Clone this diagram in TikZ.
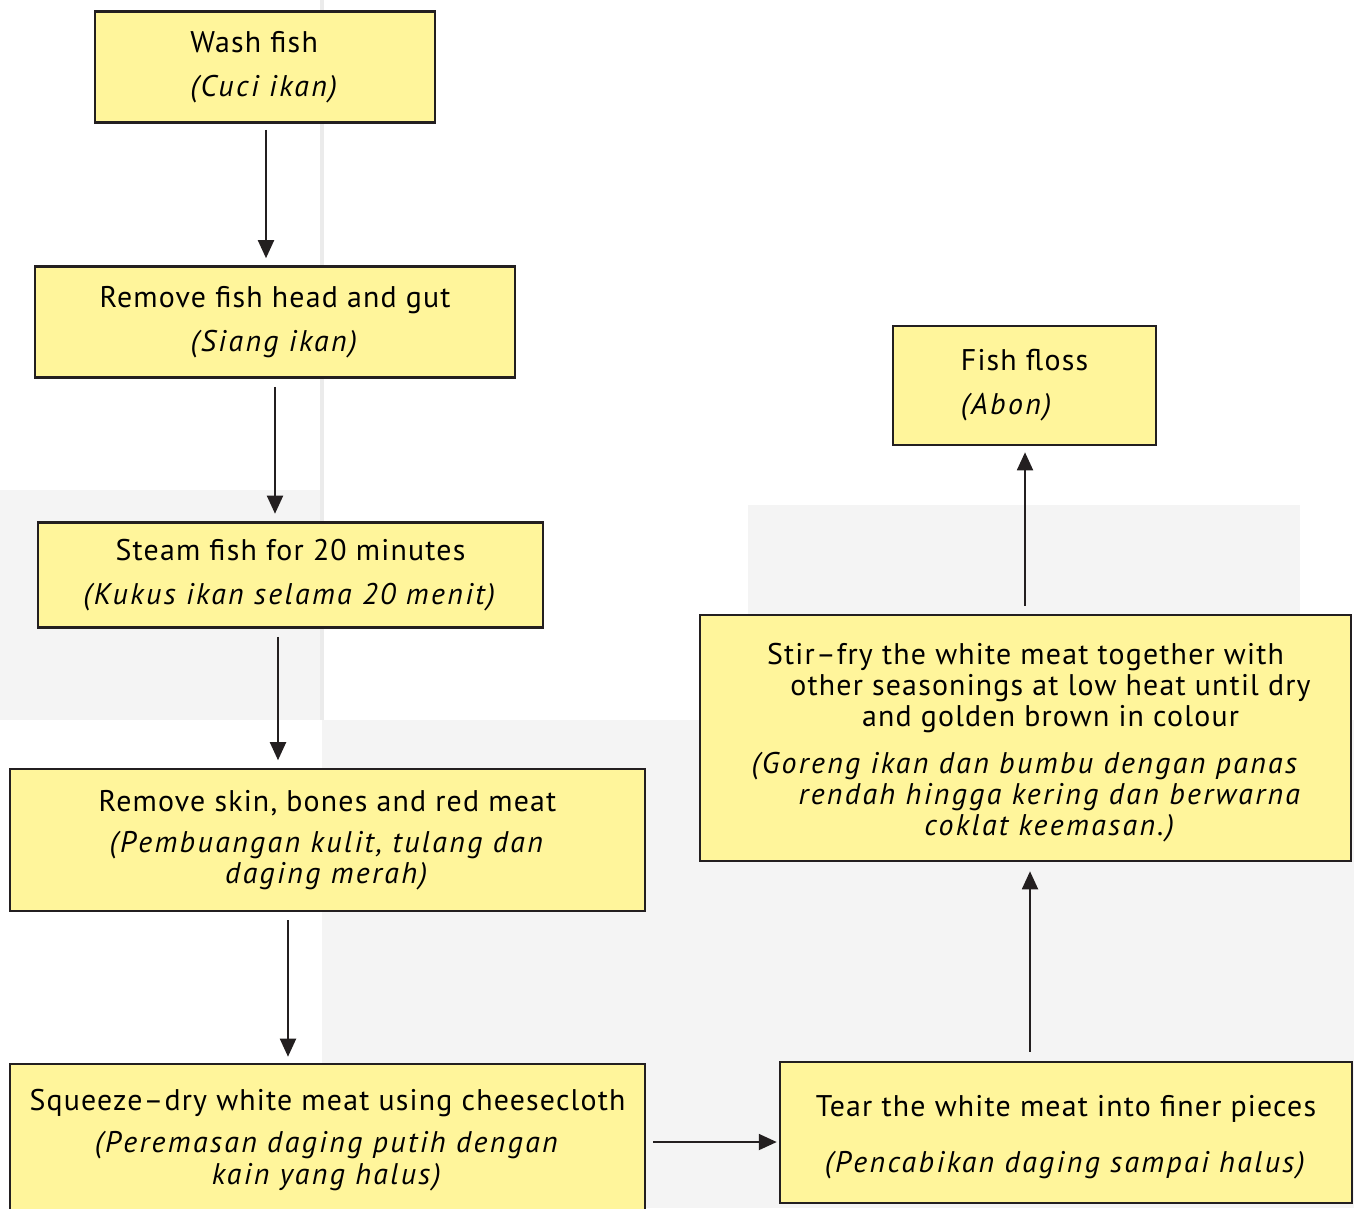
\documentclass[tikz,border=0pt]{standalone}
\usepackage{fontspec}
\setmainfont{PT Sans}[LetterSpace=4, ItalicFeatures={LetterSpace=8}]
\usepackage{xcolor}
\usetikzlibrary{arrows.meta, positioning}
\definecolor{boxfill}{HTML}{FFF59B}
\definecolor{boxline}{HTML}{231F20}
\definecolor{bgfaint}{HTML}{F4F4F4}
\definecolor{bgline}{HTML}{EBEBEB}
\begin{document}
\begin{tikzpicture}[x=0.02cm, y=-0.02cm,
    stepbox/.style={draw=boxline, fill=boxfill, line width=1.5pt, inner sep=0pt,
      align=center, font=\fontsize{17}{17.8}\selectfont},
    flow/.style={draw=boxline, line width=1.1pt, -{Triangle[length=0.36cm, width=0.32cm]},
      shorten <=0.16cm, shorten >=0.15cm}]
  \useasboundingbox (0,0) rectangle (1354,1208);
  \fill[bgfaint] (0,490) rectangle (322,720);
  \fill[bgfaint] (322,720) rectangle (1354,1208);
  \fill[bgfaint] (748,505) rectangle (1300,720);
  \draw[bgline, line width=2pt] (322,0) -- (322,720);

  \node[stepbox, align=left, minimum width=6.8cm, minimum height=2.22cm] (wash) at (265,67)
    {Wash fish\\[0.25cm]\textit{(Cuci ikan)}};
  \node[stepbox, minimum width=9.6cm, minimum height=2.22cm] (gut) at (275,322)
    {Remove fish head and gut\\[0.25cm]\textit{(Siang ikan)}};
  \node[stepbox, minimum width=10.1cm, minimum height=2.1cm] (steam) at (290.5,575)
    {Steam fish for 20 minutes\\[0.25cm]\textit{(Kukus ikan selama 20 menit)}};
  \node[stepbox, minimum width=12.7cm, minimum height=2.84cm] (skin) at (327.5,840)
    {Remove skin, bones and red meat\\[0.2cm]\textit{(Pembuangan kulit, tulang dan}\\\textit{daging merah)}};
  \node[stepbox, minimum width=12.7cm, minimum height=3.04cm] (squeeze) at (327.5,1140)
    {Squeeze–dry white meat using cheesecloth\\[0.22cm]\textit{(Peremasan daging putih dengan}\\\textit{kain yang halus)}};
  \node[stepbox, minimum width=11.44cm, minimum height=2.82cm] (tear) at (1066,1132.5)
    {\rule{0pt}{1.03em}Tear the white meat into finer pieces\\[0.5cm]\textit{(Pencabikan daging sampai halus)}};
  \node[stepbox, minimum width=13.02cm, minimum height=4.92cm] (fry) at (1025.5,738)
    {\rule{0pt}{1.03em}Stir–fry the white meat together with\\
     \hspace*{1cm}other seasonings at low heat until dry\\
     \hspace*{1cm}and golden brown in colour\\[0.3cm]
     \textit{(Goreng ikan dan bumbu dengan panas}\\
     \hspace*{1cm}\textit{rendah hingga kering dan  berwarna}\\
     \hspace*{1cm}\textit{coklat keemasan.)}};
  \node[stepbox, align=left, minimum width=5.26cm, minimum height=2.38cm] (floss) at (1024.5,385.5)
    {Fish floss\\[0.25cm]\textit{(Abon)}};

  \draw[flow, shorten >=0.14cm, shorten <=0.12cm] (wash.south -| 266,0) -- (gut.north -| 266,0);
  \draw[flow] (gut.south -| 275,0) -- (steam.north -| 275,0);
  \draw[flow] (steam.south -| 278,0) -- (skin.north -| 278,0);
  \draw[flow, shorten >=0.12cm] (skin.south -| 288,0) -- (squeeze.north -| 288,0);
  \draw[flow, shorten >=0.04cm, shorten <=0.14cm] (squeeze.east |- 0,1142) -- (tear.west |- 0,1142);
  \draw[flow, shorten >=0.18cm, shorten <=0.18cm] (tear.north -| 1030,0) -- (fry.south -| 1030,0);
  \draw[flow, shorten >=0.12cm] (fry.north -| 1025,0) -- (floss.south -| 1025,0);
\end{tikzpicture}
\end{document}
